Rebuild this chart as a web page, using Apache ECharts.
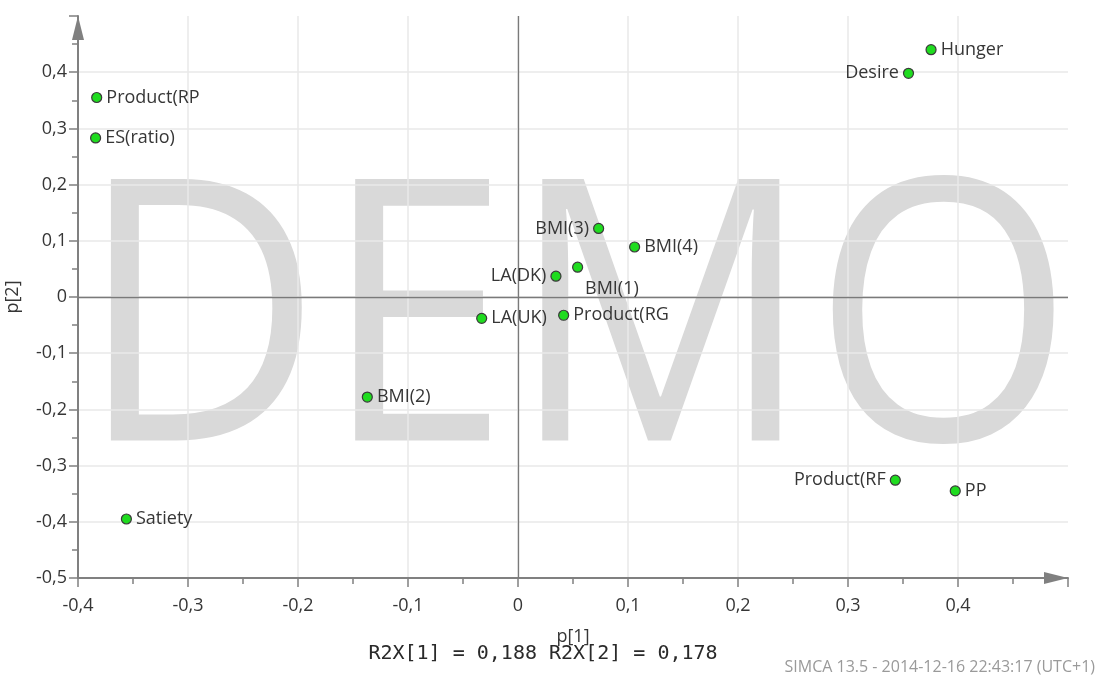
<!DOCTYPE html>
<html>
<head>
<meta charset="utf-8">
<script src="https://cdn.jsdelivr.net/npm/echarts@6/dist/echarts.min.js"></script>
<style>
  html, body { margin: 0; padding: 0; background: #fff; }
  #chart { width: 1100px; height: 677px; }
</style>
</head>
<body>
<div id="chart"></div>
<script>
// Loading plot: variables on the first two components
const variables = ['Product(RP', 'ES(ratio)', 'Satiety', 'BMI(2)', 'LA(UK)', 'Product(RG',
  'LA(DK)', 'BMI(1)', 'BMI(3)', 'BMI(4)', 'Hunger', 'Desire', 'Product(RF', 'PP'];
const p1 = [-0.383, -0.384, -0.356, -0.137, -0.033, 0.0415, 0.0345, 0.0542, 0.0733, 0.106, 0.3755, 0.355, 0.343, 0.3975];
const p2 = [0.355, 0.283, -0.395, -0.178, -0.038, -0.0325, 0.037, 0.053, 0.122, 0.089, 0.440, 0.398, -0.326, -0.345];
const xTicks = { min: -0.4, max: 0.5, step: 0.1 };
const yTicks = { min: -0.5, max: 0.5, step: 0.1 };
const r2x = ['0,188', '0,178'];
const footer = 'SIMCA 13.5 - 2014-12-16 22:43:17 (UTC+1)';

// where each name sits next to its dot
const labelSide = {
  'LA(DK)': 'left', 'BMI(3)': 'left', 'Desire': 'left', 'Product(RF': 'left', 'BMI(1)': 'below'
};

const FONT = '"Open Sans", "Noto Sans", sans-serif';
const TXT = '#363636';
const AXIS = '#808080';

const fmt = v => {
  const r = Math.round(v * 10) / 10;
  return (r === 0 ? '0' : String(r)).replace('.', ',');
};

const points = variables.map((name, i) => {
  const side = labelSide[name] || 'right';
  let label;
  if (side === 'below') {
    label = { position: [13, 27], align: 'left', verticalAlign: 'middle' };
  } else {
    label = { position: side, distance: 4 };
  }
  return { name, value: [p1[i], p2[i]], label };
});

const chart = echarts.init(document.getElementById('chart'), null, { renderer: 'canvas' });

const axisCommon = {
  type: 'value',
  interval: 0.1,
  axisLine: {
    onZero: false,
    lineStyle: { color: AXIS, width: 2 },
    symbol: ['none', 'triangle'],
    symbolSize: [12, 24],
    symbolOffset: [0, -12]
  },
  axisTick: { show: true, length: 9, lineStyle: { color: AXIS, width: 1.5 } },
  minorTick: { show: true, splitNumber: 2, length: 6, lineStyle: { color: AXIS, width: 1.5 } },
  splitLine: { show: true, showMaxLine: false, showMinLine: false, lineStyle: { color: '#e8e8e8', width: 1.5 } },
  axisLabel: {
    color: TXT, fontFamily: FONT, fontSize: 18, formatter: fmt, showMaxLabel: false
  },
  nameLocation: 'middle',
  nameTextStyle: { color: TXT, fontFamily: FONT, fontSize: 18 }
};

chart.setOption({
  animation: false,
  backgroundColor: '#ffffff',
  grid: { left: 78, right: 32, top: 16, bottom: 99, containLabel: false, outerBoundsMode: 'none' },
  xAxis: Object.assign({}, axisCommon, {
    min: xTicks.min, max: xTicks.max,
    name: 'p[1]', nameGap: 50,
    axisLabel: Object.assign({}, axisCommon.axisLabel, { margin: 19 })
  }),
  yAxis: Object.assign({}, axisCommon, {
    min: yTicks.min, max: yTicks.max,
    name: 'p[2]', nameGap: 56,
    axisLabel: Object.assign({}, axisCommon.axisLabel, { margin: 11 })
  }),
  graphic: {
    elements: [
      {
        type: 'text', z: -10, silent: true,
        x: 78, y: 153, scaleX: 0.91, scaleY: 0.99,
        style: {
          text: 'DEMO', fill: '#d9d9d9',
          font: '370px "Open Sans", "Noto Sans", sans-serif',
          textAlign: 'left', textVerticalAlign: 'top', align: 'left', verticalAlign: 'top'
        }
      },
      {
        type: 'text', silent: true, x: 543, y: 654,
        style: {
          text: 'R2X[1] = ' + r2x[0] + ' R2X[2] = ' + r2x[1], fill: '#2a2a2a',
          font: '20px "DejaVu Sans Mono", monospace',
          textAlign: 'center', textVerticalAlign: 'middle', align: 'center', verticalAlign: 'middle'
        }
      },
      {
        type: 'text', silent: true, x: 1095, y: 667,
        style: {
          text: footer, fill: '#9a9a9a',
          font: '16px "Open Sans", "Noto Sans", sans-serif',
          textAlign: 'right', textVerticalAlign: 'middle', align: 'right', verticalAlign: 'middle'
        }
      }
    ]
  },
  series: [{
    type: 'scatter',
    data: points,
    symbol: 'circle',
    symbolSize: 10,
    itemStyle: { color: '#1fdc1f', borderColor: '#3a3a3a', borderWidth: 1.2, opacity: 1 },
    label: {
      show: true, formatter: p => p.name,
      color: TXT, fontFamily: FONT, fontSize: 18
    },
    emphasis: { disabled: true },
    markLine: {
      silent: true, z: 1, symbol: 'none',
      label: { show: false },
      lineStyle: { color: '#7a7a7a', width: 1.3, type: 'solid' },
      data: [{ xAxis: 0 }, { yAxis: 0 }]
    }
  }]
});
</script>
</body>
</html>
